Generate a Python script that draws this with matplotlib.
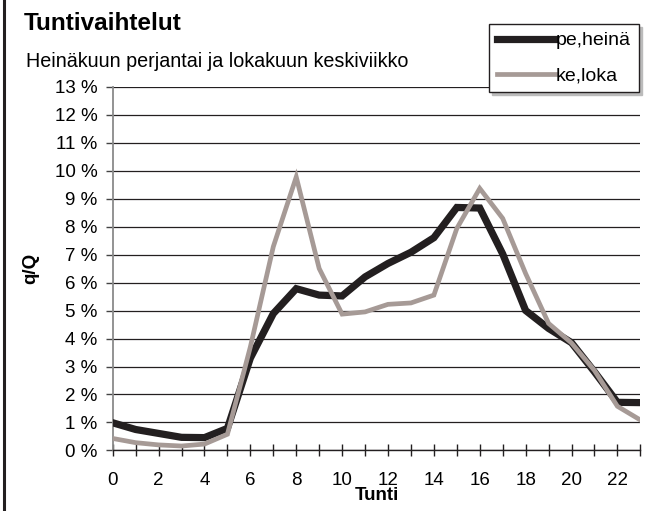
import numpy as np
import matplotlib
matplotlib.use("Agg")
import matplotlib.pyplot as plt
from matplotlib.lines import Line2D

plt.rcParams['font.family'] = ['Liberation Sans', 'DejaVu Sans']

hours = list(range(24))
pe_heina = [0.99, 0.75, 0.61, 0.47, 0.46, 0.79, 3.3, 4.89, 5.78, 5.55, 5.52, 6.2, 6.68,
            7.08, 7.6, 8.68, 8.66, 7.02, 5.0, 4.36, 3.85, 2.81, 1.72, 1.71]
ke_loka = [0.43, 0.28, 0.2, 0.16, 0.23, 0.58, 3.7, 7.28, 9.77, 6.5, 4.87, 4.95, 5.22,
           5.27, 5.55, 7.93, 9.36, 8.29, 6.32, 4.54, 3.84, 2.86, 1.58, 1.09]
yticks = list(range(14))
xlabels = list(range(0, 23, 2))

dark = '#231f20'
grey = '#a69a96'

fig = plt.figure(figsize=(6.52, 5.11), dpi=100)
ax = fig.add_axes([0.1729, 0.1184, 0.8092, 0.7123])

ax.plot(hours, pe_heina, color=dark, lw=5.2, solid_joinstyle='miter', label='pe,heinä', zorder=3)
ax.plot(hours, ke_loka, color=grey, lw=3.4, solid_joinstyle='miter', label='ke,loka', zorder=4)

ax.set_xlim(0, 23)
ax.set_ylim(0, 13)
ax.set_yticks(yticks)
ax.set_yticklabels(['%d %%' % v for v in yticks], fontsize=13.5)
ax.set_xticks(hours, minor=True)
ax.set_xticks(xlabels)
ax.set_xticklabels([str(v) for v in xlabels], fontsize=13.5)
ax.tick_params(axis='y', direction='out', length=5, width=1, color='#444444', pad=6)
ax.tick_params(axis='x', which='both', direction='inout', length=8.5, width=1, color=dark, pad=11)
ax.yaxis.grid(True, color=dark, lw=0.9)
ax.set_axisbelow(True)
for s in ['top', 'right']:
    ax.spines[s].set_visible(False)
ax.spines['left'].set_color('#8a8a8a')
ax.spines['left'].set_linewidth(1.3)
ax.spines['bottom'].set_color(dark)
ax.spines['bottom'].set_linewidth(1)

ax.set_xlabel('Tunti', fontsize=13.5, fontweight='bold', labelpad=-1)
ax.set_ylabel('q/Q', fontsize=13.5, fontweight='bold', labelpad=11)

fig.text(24 / 652, 1 - 23.5 / 511, 'Tuntivaihtelut', fontsize=17.5, fontweight='bold',
         va='center', ha='left')
fig.text(26 / 652, 1 - 61.5 / 511, 'Heinäkuun perjantai ja lokakuun keskiviikko', fontsize=14.2,
         va='center', ha='left')

leg = ax.legend(loc='upper left', bbox_to_anchor=(489 / 652, 1 - 24 / 511),
                bbox_transform=fig.transFigure, frameon=True, fancybox=False,
                shadow={'color': '#bbbbbb', 'alpha': 1}, fontsize=14, handlelength=3.0,
                handletextpad=0.05, borderpad=0.4, labelspacing=0.9, borderaxespad=0)
leg.get_frame().set_edgecolor(dark)
leg.get_frame().set_linewidth(1)
leg.set_zorder(10)

# left border of the chart frame
fig.add_artist(Line2D([3.5 / 652, 3.5 / 652], [0, 1], transform=fig.transFigure,
                      color=dark, lw=2.2))

fig.savefig('out.png', dpi=100)
